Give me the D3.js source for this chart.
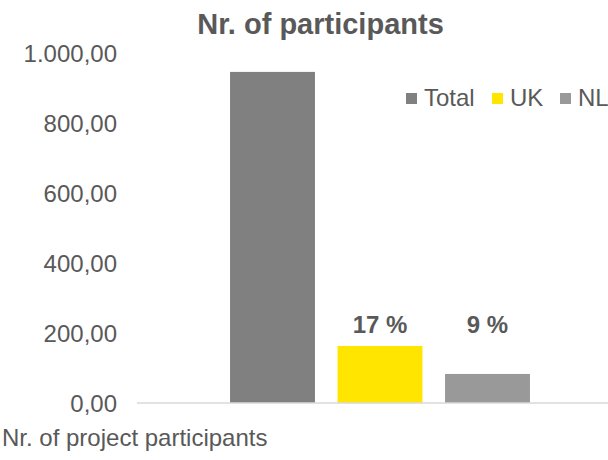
<!DOCTYPE html>
<html><head><meta charset="utf-8">
<script src="https://cdn.jsdelivr.net/npm/d3@7"></script>
<style>body{margin:0;background:#fff}text{font-family:"Liberation Sans",Arial,sans-serif}</style>
</head><body>
<script>
const title = "Nr. of participants";
const category = "Nr. of project participants";
const series = ["Total", "UK", "NL"];
const values = [946, 163, 83];
const colors = ["#808080", "#FFE500", "#999999"];
const barLabels = ["", "17 %", "9 %"];
const yTicks = [0, 200, 400, 600, 800, 1000];

const W = 608, H = 460;
const svg = d3.select("body").append("svg").attr("width", W).attr("height", H);
const y = d3.scaleLinear().domain([0, 1000]).range([403, 53]);
const x = d3.scaleBand().domain(series).range([218.75, 541.25]).paddingInner(0.21).paddingOuter(0.105);
const fmt = v => d3.formatLocale({decimal: ",", thousands: ".", grouping: [3], currency: ["", ""]}).format(",.2f")(v);
const txt = "#595959";

svg.append("text").attr("x", 320.5).attr("y", 34).attr("text-anchor", "middle")
  .attr("font-size", 29).attr("font-weight", "bold").attr("fill", txt).text(title);

const yAxis = d3.axisLeft(y).tickValues(yTicks).tickFormat(fmt).tickSize(0).tickPadding(0);
const ga = svg.append("g").attr("transform", "translate(117,0)").call(yAxis);
ga.select(".domain").remove();
ga.selectAll("text").attr("font-size", 24).attr("fill", txt)
  .attr("font-family", "Liberation Sans, Arial, sans-serif").attr("dy", "0.35em");

svg.selectAll("rect.bar").data(values).enter().append("rect").attr("class", "bar")
  .attr("x", (d, i) => x(series[i])).attr("width", x.bandwidth())
  .attr("y", d => y(d)).attr("height", d => y(0) - y(d))
  .attr("fill", (d, i) => colors[i]);

svg.append("line").attr("x1", 137).attr("x2", 608).attr("y1", y(0)).attr("y2", y(0))
  .attr("stroke", "#d9d9d9").attr("stroke-width", 1.3);

svg.selectAll("text.lbl").data(values).enter().append("text").attr("class", "lbl")
  .attr("x", (d, i) => x(series[i]) + x.bandwidth() / 2).attr("y", 333)
  .attr("text-anchor", "middle").attr("font-size", 24).attr("font-weight", "bold").attr("fill", txt)
  .text((d, i) => barLabels[i]);

svg.append("text").attr("x", 2).attr("y", 446).attr("font-size", 24).attr("fill", txt).text(category);

const legX = [406, 492, 560];
series.forEach((s, i) => {
  svg.append("rect").attr("x", legX[i]).attr("y", 93).attr("width", 11).attr("height", 11).attr("fill", colors[i]);
  svg.append("text").attr("x", legX[i] + 18).attr("y", 106).attr("font-size", 24).attr("fill", txt).text(s);
});
</script>
</body></html>
